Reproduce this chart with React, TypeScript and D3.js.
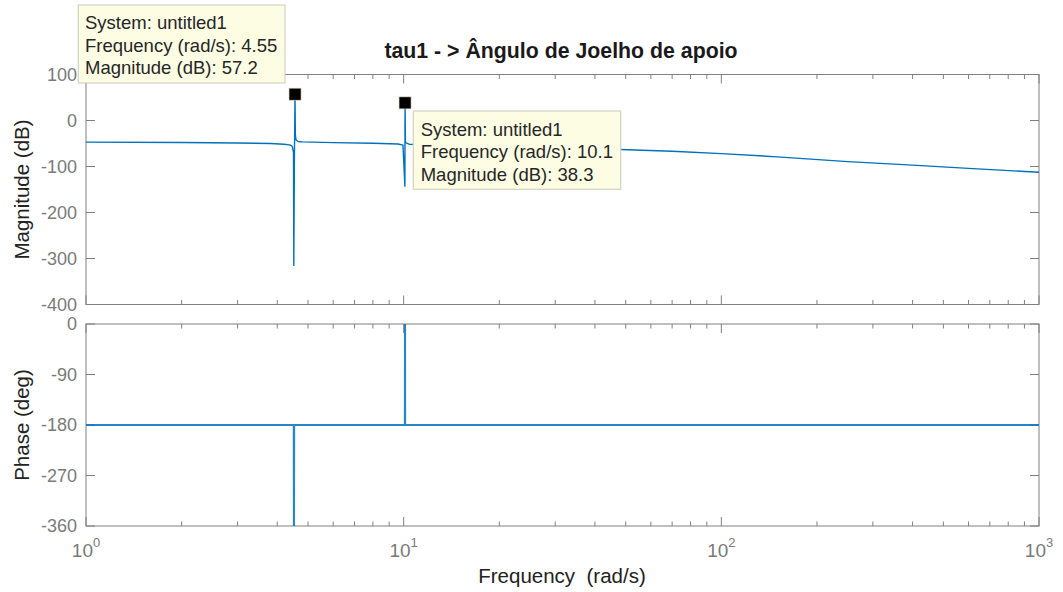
import React from "react";
import * as d3 from "d3";

const title = "tau1 - > Ângulo de Joelho de apoio";
const xLabel = "Frequency  (rad/s)";
const magLabel = "Magnitude (dB)";
const phaseLabel = "Phase (deg)";

const magTicks = [100, 0, -100, -200, -300, -400];
const phaseTicks = [0, -90, -180, -270, -360];
const decadeTicks = [1, 10, 100, 1000];
const decadeExp = ["0", "1", "2", "3"];

// Magnitude response
const magFreq = [1, 2, 3, 3.8, 4.2, 4.38, 4.46, 4.5, 4.51, 4.53, 4.55, 4.56, 4.58, 4.65, 4.8, 6, 8, 9.6, 9.95, 10.09, 10.1, 10.13, 10.4, 15, 20, 30, 48, 70, 100, 150, 250, 400, 600, 1000];
const magDb = [-47, -47.8, -48.8, -50, -51.5, -53, -56, -70, -315, -80, 57.2, -30, -42, -45.5, -46.5, -48, -49.5, -51, -53.5, -143, 38.3, -48, -51.5, -54, -56, -59, -63, -67, -72, -79, -89.5, -97, -104, -112.6];

// Phase response
const phaseFreq = [1, 4.505, 4.51, 4.52, 4.525, 10.08, 10.09, 10.11, 10.115, 1000];
const phaseDeg = [-180, -180, -365, -365, -180, -180, 5, 5, -180, -180];

// Data tips
const tipFreq = [4.55, 10.1];
const tipMag = [57.2, 38.3];
const tipLines = [
  ["System: untitled1", "Frequency (rad/s): 4.55", "Magnitude (dB): 57.2"],
  ["System: untitled1", "Frequency (rad/s): 10.1", "Magnitude (dB): 38.3"],
];

const FONT = "'Liberation Sans', Arial, Helvetica, sans-serif";
const AX = "#808080";
const TICKTXT = "#7a7a7a";
const BLUE = "#0072BD";

export default function App() {
  const W = 1063, H = 592;
  const left = 86, right = 1039;
  const magTop = 74.5, magBot = 304.5;
  const phTop = 324, phBot = 526;

  const x = d3.scaleLog().domain([1, 1000]).range([left, right]);
  const yMag = d3.scaleLinear().domain([-400, 100]).range([magBot, magTop]);
  const yPh = d3.scaleLinear().domain([-360, 0]).range([phBot, phTop]);

  const magPts: [number, number][] = magFreq.map((f, i) => [f, magDb[i]]);
  const phPts: [number, number][] = phaseFreq.map((f, i) => [f, phaseDeg[i]]);
  const magLine = d3.line<[number, number]>().x(d => x(d[0])).y(d => yMag(d[1]))(magPts) || "";
  const phLine = d3.line<[number, number]>().x(d => x(d[0])).y(d => yPh(d[1]))(phPts) || "";

  const xt = x.ticks();
  const isMajor = (v: number) => Math.abs(Math.log10(v) - Math.round(Math.log10(v))) < 1e-9;

  const frame = (top: number, bot: number, yTicks: number[], ys: (v: number) => number, key: string) => (
    <g key={key}>
      <rect x={left} y={top} width={right - left} height={bot - top} fill="none" stroke={AX} strokeWidth={1} />
      {xt.map((v, i) => {
        const L = isMajor(v) ? 9 : 4.5;
        const px = x(v);
        return (
          <g key={i}>
            <line x1={px} x2={px} y1={bot} y2={bot - L} stroke={AX} strokeWidth={1} />
            <line x1={px} x2={px} y1={top} y2={top + L} stroke={AX} strokeWidth={1} />
          </g>
        );
      })}
      {yTicks.map((v, i) => (
        <g key={"y" + i}>
          <line x1={left} x2={left + 9} y1={ys(v)} y2={ys(v)} stroke={AX} strokeWidth={1} />
          <line x1={right} x2={right - 9} y1={ys(v)} y2={ys(v)} stroke={AX} strokeWidth={1} />
          <text x={left - 9} y={ys(v)} dy="0.36em" textAnchor="end" fontSize={18} fill={TICKTXT} fontFamily={FONT}>{v}</text>
        </g>
      ))}
    </g>
  );

  return (
    <div style={{ position: "fixed", left: 0, top: 0, width: W, height: H, background: "#fff" }}>
      <svg width={W} height={H} viewBox={`0 0 ${W} ${H}`} style={{ display: "block" }}>
        <defs>
          <clipPath id="clipMag"><rect x={left} y={magTop} width={right - left} height={magBot - magTop} /></clipPath>
          <clipPath id="clipPh"><rect x={left} y={phTop} width={right - left} height={phBot - phTop} /></clipPath>
        </defs>
        <rect width={W} height={H} fill="#fff" />
        <text x={561} y={58} textAnchor="middle" fontSize={21.3} fontWeight="bold" fill="#1a1a1a" fontFamily={FONT}>{title}</text>

        {frame(magTop, magBot, magTicks, yMag, "mag")}
        {frame(phTop, phBot, phaseTicks, yPh, "ph")}

        <path d={magLine} fill="none" stroke={BLUE} strokeWidth={1.4} clipPath="url(#clipMag)" strokeLinejoin="round" />
        <path d={phLine} fill="none" stroke={BLUE} strokeWidth={1.8} strokeOpacity={0.85} clipPath="url(#clipPh)" strokeLinejoin="round" />

        {decadeTicks.map((v, i) => (
          <text key={i} x={x(v)} y={557} textAnchor="middle" fontSize={19} fill={TICKTXT} fontFamily={FONT}>
            10<tspan dy={-10} fontSize={13}>{decadeExp[i]}</tspan>
          </text>
        ))}

        <text x={562} y={583} textAnchor="middle" fontSize={20.5} fill="#222" fontFamily={FONT} style={{ whiteSpace: "pre" }}>{xLabel}</text>
        <text transform={`translate(29, ${(magTop + magBot) / 2}) rotate(-90)`} textAnchor="middle" fontSize={20.5} fill="#222" fontFamily={FONT}>{magLabel}</text>
        <text transform={`translate(29, ${(phTop + phBot) / 2}) rotate(-90)`} textAnchor="middle" fontSize={20.5} fill="#222" fontFamily={FONT}>{phaseLabel}</text>

        {tipFreq.map((f, i) => (
          <rect key={"m" + i} x={x(f) - 6} y={yMag(tipMag[i]) - 6} width={12} height={12} fill="#000" stroke="#d8d4b0" strokeWidth={0.6} />
        ))}

        {[{ bx: 78.3, by: 5, bw: 206.7, bh: 78, tx: 85, ty: 29.3 }, { bx: 413.3, by: 111, bw: 207.4, bh: 78.3, tx: 420.7, ty: 135.7 }].map((b, i) => (
          <g key={"tip" + i}>
            <rect x={b.bx} y={b.by} width={b.bw} height={b.bh} fill="#fdfde4" stroke="#d2d2c4" strokeWidth={1.2} />
            {tipLines[i].map((s, j) => (
              <text key={j} x={b.tx} y={b.ty + j * 22.4} fontSize={18.5} fill="#262626" fontFamily={FONT}>{s}</text>
            ))}
          </g>
        ))}
      </svg>
    </div>
  );
}
